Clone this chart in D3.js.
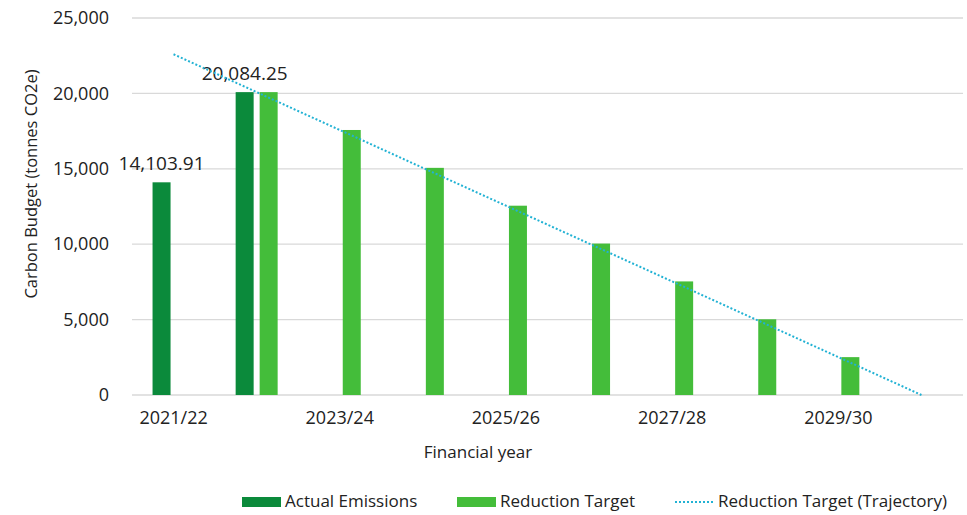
<!DOCTYPE html>
<html>
<head>
<meta charset="utf-8">
<script src="https://cdn.jsdelivr.net/npm/d3@7"></script>
<style>
  body { margin: 0; background: #fff; }
  text { font-family: "Open Sans", sans-serif; fill: #222; }
</style>
</head>
<body>
<div id="chart"></div>
<script>
var years = ["2021/22", "2022/23", "2023/24", "2024/25", "2025/26",
             "2026/27", "2027/28", "2028/29", "2029/30", "2030/31"];
var tickYears = ["2021/22", "2023/24", "2025/26", "2027/28", "2029/30"];
var actual = [14103.91, 20084.25, null, null, null, null, null, null, null, null];
var target = [null, 20084.25, 17574, 15063, 12553, 10042, 7532, 5021, 2511, null];
var trajectory = [22595, 20084, 17574, 15063, 12553, 10042, 7532, 5021, 2511, 0];
var yTicks = [0, 5000, 10000, 15000, 20000, 25000];

var width = 967,
    height = 515,
    margin = {top: 18, right: 4, bottom: 120, left: 132};

var dark = "#0b8a3b",
    light = "#44bd3a",
    cyan = "#22b2d4";

var svg = d3.select("#chart")
    .append("svg")
    .attr("width", width)
    .attr("height", height);

var x = d3.scaleBand()
    .domain(years)
    .range([margin.left, width - margin.right]);

var y = d3.scaleLinear()
    .domain([0, 25000])
    .range([height - margin.bottom, margin.top]);

var barW = 18;

// gridlines
svg.selectAll(".grid")
    .data(yTicks)
    .enter().append("line")
    .attr("x1", margin.left)
    .attr("x2", width - margin.right)
    .attr("y1", function (d) { return y(d); })
    .attr("y2", function (d) { return y(d); })
    .attr("stroke", "#d9d9d9")
    .attr("stroke-width", 1.3);

var yAxis = svg.append("g")
    .attr("transform", "translate(" + (margin.left - 20) + ",0)")
    .call(d3.axisLeft(y).tickValues(yTicks).tickSize(0).tickFormat(d3.format(",")));
yAxis.select(".domain").remove();
yAxis.selectAll("text").attr("font-size", 18).attr("font-family", "Open Sans").attr("fill", "#222");

var xAxis = svg.append("g")
    .attr("transform", "translate(0," + y(0) + ")")
    .call(d3.axisBottom(x).tickValues(tickYears).tickSize(0).tickPadding(16));
xAxis.select(".domain").remove();
xAxis.selectAll("text").attr("font-size", 18).attr("font-family", "Open Sans").attr("fill", "#222");

// bars
svg.selectAll(".actual")
    .data(years.map(function (d, i) { return {year: d, v: actual[i]}; })
        .filter(function (d) { return d.v != null; }))
    .enter().append("rect")
    .attr("class", "actual")
    .attr("x", function (d) { return x(d.year) + x.bandwidth() / 2 - 12 - barW / 2; })
    .attr("width", barW)
    .attr("y", function (d) { return y(d.v); })
    .attr("height", function (d) { return y(0) - y(d.v); })
    .attr("fill", dark);

svg.selectAll(".target")
    .data(years.map(function (d, i) { return {year: d, v: target[i]}; })
        .filter(function (d) { return d.v != null; }))
    .enter().append("rect")
    .attr("class", "target")
    .attr("x", function (d) { return x(d.year) + x.bandwidth() / 2 + 12 - barW / 2; })
    .attr("width", barW)
    .attr("y", function (d) { return y(d.v); })
    .attr("height", function (d) { return y(0) - y(d.v); })
    .attr("fill", light);

// data labels for actual
svg.selectAll(".label")
    .data(years.map(function (d, i) { return {year: d, v: actual[i]}; })
        .filter(function (d) { return d.v != null; }))
    .enter().append("text")
    .attr("x", function (d) { return x(d.year) + x.bandwidth() / 2 - 12; })
    .attr("y", function (d) { return y(d.v) - 12; })
    .attr("text-anchor", "middle")
    .attr("font-size", 19)
    .text(function (d) { return d3.format(",.2f")(d.v); });

// trajectory
var line = d3.line()
    .x(function (d, i) { return x(years[i]) + x.bandwidth() / 2; })
    .y(function (d) { return y(d); });

svg.append("path")
    .datum(trajectory)
    .attr("d", line)
    .attr("fill", "none")
    .attr("stroke", cyan)
    .attr("stroke-width", 2)
    .attr("stroke-dasharray", "2,2");

// axis titles
svg.append("text")
    .attr("transform", "translate(33,184) rotate(-90)")
    .attr("text-anchor", "middle")
    .attr("dominant-baseline", "middle")
    .attr("font-size", 16.5)
    .text("Carbon Budget (tonnes CO2e)");

svg.append("text")
    .attr("x", 478)
    .attr("y", 458)
    .attr("text-anchor", "middle")
    .attr("font-size", 17)
    .text("Financial year");

// legend
var legend = [
    {name: "Actual Emissions", type: "rect", color: dark, x: 242},
    {name: "Reduction Target", type: "rect", color: light, x: 457},
    {name: "Reduction Target (Trajectory)", type: "line", color: cyan, x: 675}
];
var lg = svg.selectAll(".legend")
    .data(legend)
    .enter().append("g")
    .attr("transform", function (d) { return "translate(" + d.x + ",502)"; });

lg.filter(function (d) { return d.type == "rect"; })
    .append("rect")
    .attr("x", 0).attr("y", -5)
    .attr("width", 39).attr("height", 10)
    .attr("fill", function (d) { return d.color; });

lg.filter(function (d) { return d.type == "line"; })
    .append("line")
    .attr("x1", 0).attr("x2", 39)
    .attr("stroke", function (d) { return d.color; })
    .attr("stroke-width", 2)
    .attr("stroke-dasharray", "2,2");

lg.append("text")
    .attr("x", 43)
    .attr("dominant-baseline", "middle")
    .attr("font-size", 17)
    .text(function (d) { return d.name; });
</script>
</body>
</html>
